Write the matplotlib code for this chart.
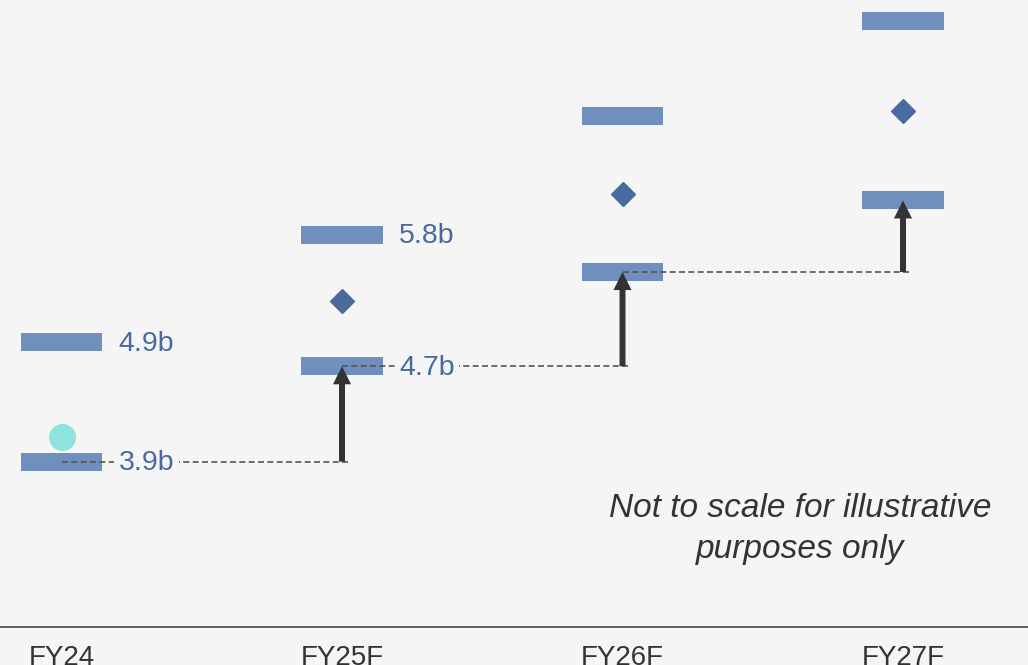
import matplotlib
matplotlib.use("Agg")
import matplotlib.pyplot as plt

# Forecast ranges (billions) per fiscal year
categories = ["FY24", "FY25F", "FY26F", "FY27F"]
range_low = [3.9, 4.7, 5.49, 6.09]
range_high = [4.9, 5.8, 6.80, 7.59]
range_mid = [None, 5.25, 6.145, 6.84]
actual_fy24 = 4.11
low_labels = ["3.9b", "4.7b", "", ""]
high_labels = ["4.9b", "5.8b", "", ""]
note = "Not to scale for illustrative\npurposes only"

BG = "#f5f5f5"
BAR = "#6f8fbd"
DIAMOND = "#4b6b9c"
LABEL = "#4a6a9e"
DARK = "#333333"
CIRCLE = "#8fe3df"

plt.rcParams["font.family"] = ["Liberation Sans", "DejaVu Sans"]

fig = plt.figure(figsize=(10.28, 6.65), dpi=100, facecolor=BG)
ax = fig.add_axes([0, 1 - 627 / 665, 1, 627 / 665])
ax.set_facecolor(BG)

x = list(range(len(categories)))
bar_w = 0.289
bar_h = 0.151

# range ends
ax.bar(x, [bar_h] * len(x), bottom=[v - bar_h / 2 for v in range_low],
       width=bar_w, color=BAR, zorder=3)
ax.bar(x, [bar_h] * len(x), bottom=[v - bar_h / 2 for v in range_high],
       width=bar_w, color=BAR, zorder=3)

# midpoints
mx = [i for i, m in zip(x, range_mid) if m is not None]
my = [m for m in range_mid if m is not None]
ax.plot(mx, my, linestyle="none", marker="D", markersize=12.7,
        color=DIAMOND, zorder=4)

# FY24 actual
ax.plot([x[0]], [actual_fy24], linestyle="none", marker="o",
        markersize=18.5, color=CIRCLE, zorder=4)

# step-up guides and arrows
for i in range(1, len(x)):
    prev = range_low[i - 1]
    cur = range_low[i]
    ax.plot([x[i - 1], x[i] + 0.032], [prev, prev], color="#555555",
            lw=1.2, linestyle=(0, (3.6, 2.0)), zorder=4)
    ax.annotate("", xy=(x[i], cur), xytext=(x[i], prev),
                arrowprops=dict(arrowstyle="simple,head_length=1.3,head_width=1.3,tail_width=0.43",
                                lw=0, color=DARK, mutation_scale=10,
                                shrinkA=0, shrinkB=0),
                zorder=5)

# value labels
for i in x:
    for v, lab in ((range_low[i], low_labels[i]), (range_high[i], high_labels[i])):
        if lab:
            ax.annotate(lab, xy=(x[i] + bar_w / 2, v), xytext=(12, -1),
                        textcoords="offset points", ha="left", va="center",
                        fontsize=20.5, color=LABEL, zorder=6,
                        bbox=dict(boxstyle="square,pad=0.15", fc=BG, ec="none"))

ax.text(800 / 1028, 1 - 529 / 627, note, transform=ax.transAxes,
        ha="center", va="center", fontsize=24, style="italic",
        color=DARK, linespacing=1.38)

ax.set_xlim(-0.2193, 3.4456)
ax.set_ylim(2.514, 7.770)
ax.set_xticks(x)
ax.set_xticklabels(categories, fontsize=20, color=DARK)
ax.tick_params(axis="x", length=0, pad=13)
ax.set_yticks([])
for side in ("left", "right", "top"):
    ax.spines[side].set_visible(False)
ax.spines["bottom"].set_color("#555555")
ax.spines["bottom"].set_linewidth(1.3)

fig.savefig("out.png", dpi=100, facecolor=BG)
